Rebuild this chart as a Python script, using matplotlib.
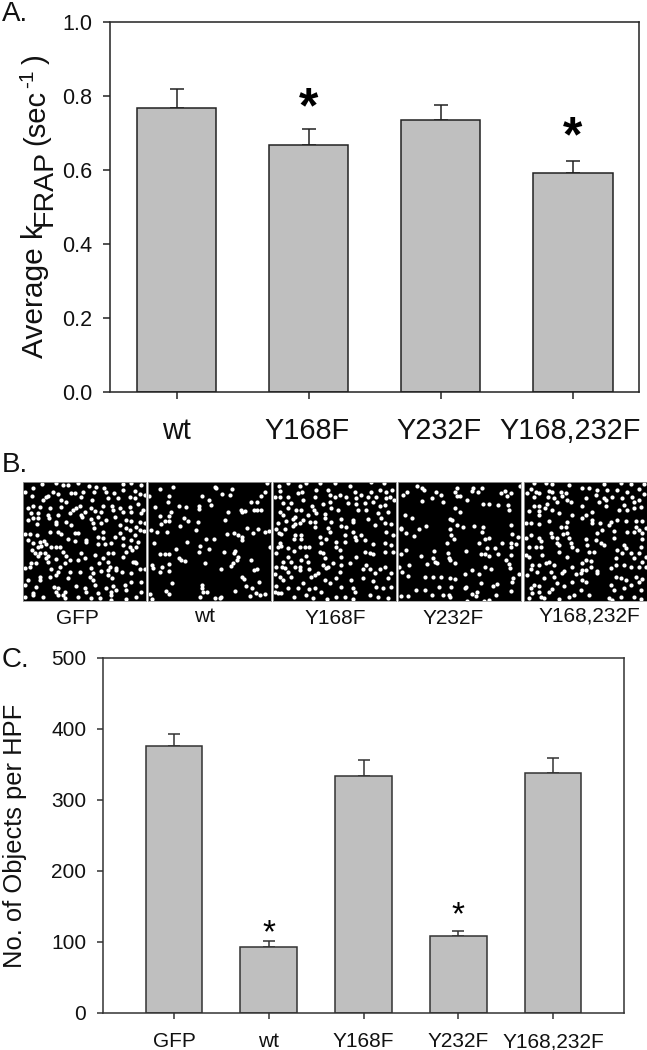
import matplotlib
matplotlib.use("Agg")
import matplotlib.pyplot as plt

plt.rcParams['font.family'] = ['Liberation Sans', 'DejaVu Sans']

W, H = 647, 1050

# panel A values
a_labels = ['wt', 'Y168F', 'Y232F', 'Y168,232F']
a_values = [0.767, 0.668, 0.734, 0.593]
a_errors = [0.053, 0.044, 0.043, 0.032]
a_stars = [1, 3]

# panel C values
c_labels = ['GFP', 'wt', 'Y168F', 'Y232F', 'Y168,232F']
c_values = [375, 93, 334, 109, 338]
c_errors = [18, 8, 22, 7, 21]
c_stars = [1, 3]

# panel B spots, read by eye from the micrographs (pixels x 3 inside each panel)
spots_gfp = [
    (30,18),(58,8),(100,5),(120,10),(135,10),(165,3),(197,12),(218,15),(243,18),(300,6),(325,5),(355,10),
    (5,30),(28,42),(68,45),(90,32),(105,38),(145,35),(155,35),(180,30),(212,30),(248,30),(272,35),(300,25),(335,28),(350,38),
    (60,55),(75,42),(115,55),(130,62),(175,45),(208,55),(255,50),(285,50),(322,45),(335,50),(365,40),
    (30,72),(15,78),(50,75),(80,78),(115,75),(160,78),(170,72),(205,80),(240,72),(268,72),(290,80),(320,75),(345,68),(360,85),
    (25,95),(45,95),(75,100),(105,100),(140,95),(150,85),(175,100),(185,90),(215,88),(235,90),(270,85),(300,90),(325,90),(355,95),
    (30,108),(45,108),(15,115),(78,108),(130,120),(178,105),(205,112),(225,105),(275,105),(310,115),(325,118),(350,120),
    (42,128),(100,122),(100,128),(145,130),(210,125),(235,125),(250,115),(290,130),(340,135),(365,125),
    (5,157),(22,158),(42,160),(80,150),(105,152),(115,158),(155,155),(165,155),(212,138),(240,150),(275,165),(290,155),(310,140),(320,145),(350,145),(362,147),(335,160),
    (15,175),(30,183),(50,180),(62,178),(70,188),(135,172),(155,178),(190,175),(225,165),(240,170),(300,170),(325,175),(345,180),
    (55,192),(45,195),(85,195),(100,195),(110,195),(190,182),(225,188),(245,188),(265,185),(320,195),(340,195),(300,190),
    (28,205),(35,213),(50,215),(65,215),(75,222),(120,210),(130,222),(175,215),(215,220),(255,215),(270,215),(310,210),(328,205),
    (45,222),(68,228),(100,232),(125,245),(185,230),(240,228),(255,240),(300,225),(330,240),(340,245),
    (25,245),(38,245),(5,258),(20,255),(75,240),(110,255),(140,235),(165,235),(205,258),(228,245),(262,255),(280,258),(335,240),(350,262),
    (85,262),(140,270),(170,270),(105,270),(210,275),(235,268),(255,265),(280,265),(298,272),(325,275),(365,262),
    (15,295),(50,285),(50,295),(80,285),(100,280),(135,290),(200,285),(210,295),(255,280),(268,290),(325,300),(355,300),
    (5,310),(40,315),(92,315),(105,318),(160,312),(185,318),(215,310),(250,318),(270,312),(280,325),(305,310),
    (30,335),(30,340),(100,330),(125,330),(120,340),(190,332),(225,335),(265,330),(265,340),(310,325),(355,330),
    (60,345),(105,340),(125,350),(165,345),(205,350),(230,348),(265,355),(310,352),(340,345),(5,345),
]
spots_wt = [
    (35,21),(75,15),(200,15),(205,20),(252,22),(357,3),(350,30),(338,42),(2,42),(62,42),(163,42),(222,36),(245,41),
    (60,60),(182,56),(310,62),(327,60),(20,75),(92,72),(115,75),(152,73),(190,70),(152,82),(240,92),(278,85),(282,90),(292,88),(318,85),(328,85),(340,85),
    (70,90),(35,102),(62,103),(108,108),(232,114),(120,118),(150,120),(52,118),(62,117),(40,126),(97,132),(298,138),(330,142),(10,145),(26,152),(58,152),
    (143,146),(258,153),(270,160),(282,165),(315,155),(237,157),(350,152),(362,148),(173,172),(198,173),(118,182),(283,175),(18,185),(155,192),(85,203),
    (183,203),(152,212),(228,212),(262,207),(257,213),(35,217),(52,217),(62,216),(270,225),(268,235),(92,230),(98,235),(110,238),(310,234),(255,243),
    (170,244),(62,248),(248,252),(12,250),(14,260),(42,256),(218,263),(318,264),(328,262),(62,267),(37,271),(282,285),(287,293),(72,305),(333,300),
    (162,310),(162,318),(293,312),(312,320),(55,328),(262,327),(165,332),(178,332),(323,335),(335,340),(352,336),(5,337),(62,338),(155,345),(305,344),
    (220,347),(215,350),(200,350),(13,352),(365,195),
]
spots_y168f = [
    (18,12),(45,3),(80,14),(100,5),(140,3),(187,4),(232,12),(295,2),(332,5),(358,25),
    (5,45),(20,28),(22,45),(45,45),(75,35),(88,30),(128,25),(165,25),(245,30),(265,40),(295,30),(322,25),(340,30),(350,45),
    (55,65),(30,65),(90,55),(125,45),(172,40),(185,45),(200,40),(218,45),(250,50),(285,45),(310,45),(340,50),(362,55),
    (45,78),(20,90),(85,85),(118,72),(150,68),(172,60),(250,68),(275,65),(300,60),(335,70),(225,65),
    (70,85),(30,100),(105,100),(122,85),(128,95),(155,97),(175,78),(195,85),(255,85),(280,85),(320,72),(315,95),(345,90),
    (60,112),(65,105),(15,125),(40,118),(90,115),(110,120),(125,120),(155,108),(175,122),(205,112),(240,115),(285,112),(325,108),(335,125),(355,128),
    (60,132),(65,128),(80,125),(125,135),(205,132),(218,135),(240,122),(165,140),(170,150),(10,142),(35,142),
    (18,155),(25,158),(65,160),(85,160),(140,165),(215,160),(240,150),(245,165),(265,160),(305,130),(340,150),(360,160),
    (62,172),(20,185),(25,192),(85,172),(160,172),(190,180),(215,182),(250,175),(300,187),(335,185),
    (15,195),(45,198),(80,195),(95,195),(108,197),(145,185),(190,195),(275,175),(355,190),
    (10,215),(62,208),(140,210),(150,215),(275,212),(290,213),(300,218),(200,205),(335,210),(360,210),(45,225),(100,222),(85,235),(155,230),(205,225),(250,225),(165,255),(180,245),
    (30,240),(55,240),(105,240),(150,250),(8,255),(28,255),(35,258),(65,255),(80,255),(108,262),(205,250),(230,245),(280,250),(290,262),(320,262),(335,255),(355,275),
    (5,278),(45,270),(135,275),(160,258),(270,262),(305,275),(200,270),(80,265),(20,285),(30,295),(55,285),(115,285),(125,280),(155,295),(190,290),(270,288),(345,290),(300,298),(235,295),
    (10,312),(45,318),(15,335),(25,335),(75,318),(90,305),(108,322),(125,320),(170,305),(205,315),(240,320),(310,315),(330,320),(355,315),(62,345),(145,330),(100,340),(215,345),(245,330),(290,340),(120,348),(162,352),(190,345),(240,352),(315,345),(345,350),(5,330),
]
spots_y232f = [
    (58,12),(72,20),(78,26),(28,31),(15,41),(114,30),(128,40),(176,18),(170,30),(176,42),(186,44),(225,20),(222,27),(240,30),(252,20),(310,35),(320,27),(327,42),(340,34),(365,14),
    (72,57),(102,50),(136,62),(208,54),(256,68),(272,68),(300,70),(330,70),(333,85),(172,80),(186,92),(22,100),(42,108),(157,113),(162,116),(178,130),(195,137),(227,133),(256,136),(338,129),
    (8,138),(10,143),(63,143),(85,134),(155,142),(25,153),(47,163),(160,160),(251,150),(343,157),(360,167),(168,172),(262,172),(272,170),(313,183),(340,185),(355,188),(148,185),(244,185),(340,195),
    (266,198),(290,198),(203,207),(25,205),(107,209),(8,218),(70,223),(150,215),(248,216),(262,218),(273,222),(300,217),(340,220),(105,228),(152,228),(155,236),(112,240),(116,245),(172,243),(323,235),
    (333,247),(88,248),(33,250),(3,255),(260,257),(280,261),(336,259),(222,266),(13,272),(200,277),(242,278),(362,276),(30,284),(80,285),(105,285),(128,285),(155,288),(170,293),(345,290),(343,302),
    (250,305),(298,308),(284,314),(205,315),(202,319),(124,315),(160,317),(55,325),(80,325),(338,327),(237,330),(222,337),(103,340),(135,340),(152,340),(155,345),(234,344),(295,341),(10,344),(31,344),
    (206,357),(257,358),(274,356),
]
spots_double = [
    (30,5),(65,5),(85,8),(135,10),(240,8),(290,5),(320,8),(360,8),
    (10,35),(22,22),(35,30),(75,28),(85,32),(110,30),(125,35),(175,20),(195,18),(218,25),(250,25),(280,25),(310,30),(345,22),(360,38),
    (30,45),(45,35),(72,45),(90,50),(115,42),(185,50),(215,40),(240,48),(265,45),(295,48),(325,45),(345,55),
    (30,72),(45,72),(70,68),(100,60),(130,55),(140,62),(175,72),(225,60),(245,55),(300,70),(330,62),(352,75),
    (15,88),(45,88),(62,80),(85,85),(105,95),(145,100),(185,100),(205,90),(245,72),(285,85),(310,85),(330,80),
    (45,100),(175,108),(205,115),(260,120),(280,115),(305,118),(335,118),(355,118),(365,140),
    (5,125),(20,125),(45,128),(75,118),(130,120),(110,135),(125,135),(205,125),(228,125),(255,130),(335,135),(345,145),
    (20,160),(45,170),(50,178),(80,155),(85,165),(100,170),(118,158),(130,155),(220,155),(235,145),(270,148),(310,150),(330,150),(355,155),
    (5,170),(35,195),(50,195),(15,195),(100,185),(105,190),(135,170),(140,185),(185,172),(190,190),(215,175),(230,185),(240,190),(270,170),(300,190),(355,172),
    (145,197),(160,205),(195,210),(210,210),(280,205),(305,200),(320,215),(330,228),(345,215),(350,195),(365,225),
    (5,220),(15,225),(55,220),(65,245),(75,240),(105,212),(130,225),(175,245),(185,235),(200,238),(275,228),(295,215),(355,240),
    (25,250),(45,250),(20,262),(40,270),(90,250),(120,268),(145,255),(175,265),(200,255),(220,268),(260,260),(275,250),(300,250),(320,255),(345,255),
    (10,280),(60,288),(80,270),(115,275),(155,278),(170,275),(185,265),(220,275),(335,285),(355,292),(365,255),
    (30,310),(45,312),(90,285),(100,305),(120,312),(145,300),(175,295),(185,300),(275,285),(290,290),(305,295),(260,310),(320,310),(345,300),
    (20,320),(25,335),(45,330),(85,322),(75,330),(135,345),(170,325),(270,325),(300,320),(350,325),
    (15,350),(50,345),(60,350),(105,352),(150,340),(195,340),(255,348),(290,345),(330,345),(350,352),(265,355),
]
b_labels = ['GFP', 'wt', 'Y168F', 'Y232F', 'Y168,232F']
b_spots = [spots_gfp, spots_wt, spots_y168f, spots_y232f, spots_double]

fig = plt.figure(figsize=(W / 100, H / 100), dpi=100, facecolor='white')


def add_axes_px(x0, y0, x1, y1):
    # pixel box measured from the top left of the picture
    return fig.add_axes([x0 / W, 1 - y1 / H, (x1 - x0) / W, (y1 - y0) / H])


def text_px(x, y, s, **kw):
    fig.text(x / W, 1 - y / H, s, **kw)


def vtext_px(x, y, s, size):
    # rotated label piece: x is the baseline, y the lower end of the string
    fig.text(x / W, 1 - y / H, s, rotation=90, fontsize=size, ha='left',
             va='baseline', rotation_mode='anchor', color='#111111')


def bar_panel(ax, values, errors, xlim, ylim, yticks, fmt, cap, edge, tick_len, size):
    xs = list(range(len(values)))
    ax.bar(xs, values, width=0.6, color='#bfbfbf', edgecolor=edge, linewidth=1.1, zorder=2)
    ax.errorbar(xs, values, yerr=[[0] * len(errors), errors], fmt='none', ecolor=edge,
                elinewidth=1.1, capsize=cap, capthick=1.1, zorder=1)
    ax.set_xlim(*xlim)
    ax.set_ylim(*ylim)
    ax.set_yticks(yticks)
    ax.set_yticklabels([fmt.format(t) for t in yticks], fontsize=size, color='#111111')
    for side in ax.spines.values():
        side.set_linewidth(1.1)
        side.set_color(edge)
    ax.tick_params(axis='y', length=tick_len, width=1.1, color=edge, pad=8)
    ax.set_xticks(xs)
    ax.tick_params(axis='x', length=tick_len, width=1.1, color=edge)


# panel A
ax_a = add_axes_px(110.5, 22, 639, 392)
bar_panel(ax_a, a_values, a_errors, (-0.5, 3.5), (0, 1.0),
          [0.0, 0.2, 0.4, 0.6, 0.8, 1.0], '{:.1f}', 5, '#222222', 5, 15.5)
ax_a.set_xticklabels([])
for name, cx in zip(a_labels, [176, 307, 439, 570]):
    text_px(cx, 439, name, fontsize=20.8, ha='center', va='baseline', color='#111111')
for i, lift in zip(a_stars, [13.5, 16.5]):
    top = a_values[i] + a_errors[i]
    ax_a.annotate('*', (i, top), xytext=(0, lift), textcoords='offset points', ha='center',
                  va='center', fontsize=36, fontweight='bold', color='black')
vtext_px(43, 358, 'Average k', 21.5)
vtext_px(52, 226, 'FRAP', 20.5)
vtext_px(44, 145, '(sec', 21)
vtext_px(33, 88, '-1', 15)
vtext_px(44, 64, ')', 21)
text_px(2, 21, 'A.', fontsize=20, ha='left', va='baseline', color='#111111')

# panel B
for spots, name, x0, cx, by in zip(b_spots, b_labels, [23, 148, 273, 398, 524],
                                   [77, 205, 335, 453, 589], [624, 622, 624, 624, 621]):
    ax_b = add_axes_px(x0, 481.5, x0 + 123, 600.5)
    ax_b.set_facecolor('black')
    ax_b.scatter([p[0] for p in spots], [p[1] for p in spots], s=9, color='white', linewidths=0, clip_on=True)
    ax_b.set_xlim(0, 369)
    ax_b.set_ylim(357, 0)
    ax_b.set_xticks([])
    ax_b.set_yticks([])
    for side in ax_b.spines.values():
        side.set_linewidth(0.6)
        side.set_color('#9a9a9a')
    text_px(cx, by, name, fontsize=15, ha='center', va='baseline', color='#111111')
text_px(2, 472, 'B.', fontsize=20, ha='left', va='baseline', color='#111111')

# panel C
ax_c = add_axes_px(103, 657.5, 624, 1013)
bar_panel(ax_c, c_values, c_errors, (-0.75, 4.75), (0, 500),
          [0, 100, 200, 300, 400, 500], '{:d}', 4, '#333333', 4, 15)
ax_c.set_xticklabels(c_labels, fontsize=15, color='#111111')
ax_c.tick_params(axis='x', pad=10)
for i, lift in zip(c_stars, [5.5, 10.5]):
    top = c_values[i] + c_errors[i]
    ax_c.annotate('*', (i, top), xytext=(0, lift), textcoords='offset points', ha='center',
                  va='center', fontsize=24, color='black')
vtext_px(21.5, 968, 'No. of Objects per HPF', 18.4)
text_px(2, 667, 'C.', fontsize=20, ha='left', va='baseline', color='#111111')

fig.savefig('out.png', dpi=100, facecolor='white')
